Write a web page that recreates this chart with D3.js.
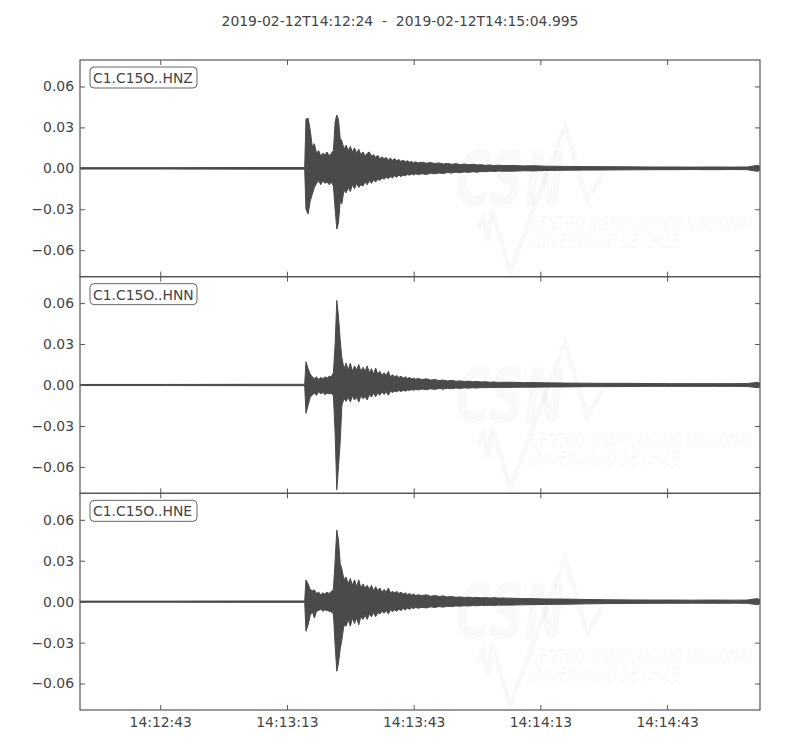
<!DOCTYPE html>
<html>
<head>
<meta charset="utf-8">
<script src="https://cdn.jsdelivr.net/npm/d3@7"></script>
<style>
  body { margin: 0; background: #fff; }
  text { font-family: "DejaVu Sans", sans-serif; }
</style>
</head>
<body>
<div id="chart"></div>
<script>
// trace window
const startTime = '2019-02-12T14:12:24';
const endTime = '2019-02-12T14:15:04.995';
const channels = ['C1.C15O..HNZ', 'C1.C15O..HNN', 'C1.C15O..HNE'];

// seconds after start; min/max envelope
const times = [0, 20, 40, 53.2,
  53.5, 54, 54.5, 55, 55.5, 56, 56.5, 57, 57.5, 58, 58.5, 59, 59.5, 60,
  60.4, 60.8, 61.2, 61.6,
  62, 62.5, 63, 63.5, 64, 64.5, 65, 65.5, 66, 66.5,
  67, 67.5, 68, 68.5, 69, 69.5, 70, 70.5, 71, 71.5,
  72, 72.5, 73, 73.5, 74, 74.5, 75, 75.5, 76, 76.5,
  77, 77.5, 78, 78.5, 79, 79.5, 80,
  81, 82, 83, 84, 85, 86, 87, 88, 89, 90, 91, 92, 93, 94, 95, 96, 97, 98, 99, 100,
  102.5, 105, 107.5, 110,
  115, 120, 125, 130, 135, 140, 145, 150, 155,
  158, 159.5, 160.5, 161];

const hnzUpper = [0.0005, 0.0005, 0.0006, 0.0006,
  0.036, 0.0367, 0.028, 0.016, 0.018, 0.011, 0.013, 0.009, 0.011, 0.010, 0.012, 0.009, 0.011, 0.013,
  0.034, 0.039, 0.036, 0.022,
  0.020, 0.014, 0.017, 0.013, 0.016, 0.012, 0.015, 0.011, 0.014, 0.010,
  0.012, 0.009, 0.011, 0.012, 0.009, 0.010, 0.008, 0.0095, 0.007, 0.0085,
  0.007, 0.008, 0.006, 0.0075, 0.006, 0.007, 0.0055, 0.0065, 0.005, 0.006,
  0.0048, 0.0055, 0.0045, 0.005, 0.004, 0.0048, 0.004,
  0.0045, 0.0038, 0.0042, 0.0035, 0.004, 0.0032, 0.0036, 0.003, 0.0034, 0.0028,
  0.0031, 0.0026, 0.003, 0.0025, 0.0027, 0.0022, 0.0025, 0.002, 0.0023, 0.002,
  0.0021, 0.0018, 0.0019, 0.0016,
  0.0014, 0.0013, 0.0012, 0.0011, 0.001, 0.001, 0.0009, 0.001, 0.0009,
  0.001, 0.0018, 0.0022, 0.0012];
const hnzLower = [-0.0005, -0.0005, -0.0006, -0.0006,
  -0.030, -0.0335, -0.024, -0.019, -0.014, -0.011, -0.009, -0.012, -0.009, -0.011, -0.010, -0.012, -0.010, -0.013,
  -0.030, -0.0445, -0.040, -0.024,
  -0.026, -0.016, -0.018, -0.014, -0.017, -0.012, -0.015, -0.011, -0.014, -0.012,
  -0.013, -0.010, -0.012, -0.009, -0.011, -0.0085, -0.010, -0.008, -0.009, -0.007,
  -0.008, -0.0065, -0.0075, -0.006, -0.007, -0.0055, -0.0065, -0.005, -0.006, -0.005,
  -0.0055, -0.0045, -0.005, -0.0042, -0.0048, -0.004, -0.0045,
  -0.004, -0.0045, -0.0036, -0.004, -0.0034, -0.0038, -0.003, -0.0034, -0.0028, -0.0032,
  -0.0026, -0.003, -0.0025, -0.0028, -0.0023, -0.0025, -0.0021, -0.0023, -0.002, -0.0021,
  -0.0021, -0.0018, -0.0019, -0.0016,
  -0.0014, -0.0013, -0.0012, -0.0011, -0.001, -0.001, -0.0009, -0.001, -0.0009,
  -0.001, -0.0018, -0.0022, -0.0012];

const hnnUpper = [0.0004, 0.0004, 0.0005, 0.0005,
  0.017, 0.012, 0.008, 0.006, 0.0045, 0.006, 0.004, 0.0055, 0.0045, 0.006, 0.005, 0.0065, 0.006, 0.009,
  0.030, 0.062, 0.050, 0.033,
  0.020, 0.012, 0.016, 0.011, 0.016, 0.010, 0.014, 0.011, 0.015, 0.010,
  0.013, 0.010, 0.014, 0.009, 0.012, 0.008, 0.0124, 0.008, 0.010, 0.007,
  0.009, 0.007, 0.010, 0.006, 0.0075, 0.006, 0.007, 0.0055, 0.0065, 0.005,
  0.006, 0.0048, 0.0055, 0.0045, 0.005, 0.0042, 0.0048,
  0.004, 0.0045, 0.0036, 0.004, 0.0033, 0.0036, 0.003, 0.0034, 0.0028, 0.003,
  0.0026, 0.0028, 0.0024, 0.0026, 0.0022, 0.0024, 0.002, 0.0022, 0.0019, 0.002,
  0.002, 0.0017, 0.0018, 0.0016,
  0.0014, 0.0013, 0.0012, 0.0012, 0.0011, 0.001, 0.001, 0.001, 0.001,
  0.0011, 0.0016, 0.002, 0.0012];
const hnnLower = [-0.0004, -0.0004, -0.0005, -0.0005,
  -0.0207, -0.015, -0.009, -0.0073, -0.006, -0.0075, -0.005, -0.0065, -0.0055, -0.007, -0.006, -0.0065, -0.006, -0.008,
  -0.035, -0.0768, -0.060, -0.042,
  -0.015, -0.010, -0.012, -0.009, -0.0125, -0.008, -0.011, -0.009, -0.0125, -0.008,
  -0.010, -0.0085, -0.011, -0.007, -0.0088, -0.006, -0.0085, -0.006, -0.0075, -0.005,
  -0.007, -0.005, -0.0075, -0.0045, -0.0055, -0.0045, -0.005, -0.004, -0.0048, -0.0038,
  -0.0045, -0.0036, -0.004, -0.0034, -0.0038, -0.0032, -0.0036,
  -0.003, -0.0034, -0.0028, -0.0032, -0.0026, -0.003, -0.0024, -0.0027, -0.0022, -0.0025,
  -0.0021, -0.0023, -0.002, -0.0022, -0.0019, -0.002, -0.0018, -0.0019, -0.0017, -0.0018,
  -0.0017, -0.0016, -0.0016, -0.0015,
  -0.0014, -0.0012, -0.0012, -0.0011, -0.001, -0.001, -0.001, -0.001, -0.001,
  -0.0011, -0.0016, -0.002, -0.0012];

const hneUpper = [0.0004, 0.0004, 0.0005, 0.0005,
  0.016, 0.013, 0.009, 0.008, 0.0086, 0.006, 0.007, 0.005, 0.0065, 0.0055, 0.007, 0.006, 0.0075, 0.009,
  0.030, 0.0525, 0.045, 0.028,
  0.024, 0.016, 0.018, 0.013, 0.017, 0.012, 0.016, 0.011, 0.016, 0.010,
  0.013, 0.010, 0.012, 0.009, 0.012, 0.008, 0.011, 0.008, 0.010, 0.007,
  0.009, 0.007, 0.010, 0.0065, 0.0075, 0.0065, 0.0075, 0.006, 0.007, 0.0055,
  0.0065, 0.005, 0.006, 0.0048, 0.0055, 0.0045, 0.005,
  0.0045, 0.005, 0.004, 0.0045, 0.0038, 0.0042, 0.0035, 0.0038, 0.0032, 0.0035,
  0.003, 0.0033, 0.0029, 0.0031, 0.0028, 0.003, 0.0027, 0.0029, 0.0026, 0.0027,
  0.0025, 0.0023, 0.0022, 0.002,
  0.0019, 0.0016, 0.0014, 0.0013, 0.0012, 0.0012, 0.0011, 0.0012, 0.0011,
  0.0012, 0.0019, 0.0022, 0.0012];
const hneLower = [-0.0004, -0.0004, -0.0005, -0.0005,
  -0.0217, -0.017, -0.010, -0.0073, -0.012, -0.007, -0.0065, -0.0055, -0.007, -0.006, -0.0065, -0.007, -0.0075, -0.009,
  -0.032, -0.051, -0.045, -0.035,
  -0.028, -0.017, -0.018, -0.013, -0.018, -0.012, -0.016, -0.012, -0.017, -0.011,
  -0.013, -0.010, -0.013, -0.009, -0.011, -0.008, -0.011, -0.008, -0.009, -0.007,
  -0.0085, -0.0065, -0.009, -0.006, -0.0073, -0.006, -0.007, -0.0055, -0.0065, -0.005,
  -0.006, -0.0048, -0.0055, -0.0045, -0.005, -0.0042, -0.0048,
  -0.0042, -0.0046, -0.0038, -0.0042, -0.0036, -0.004, -0.0034, -0.0036, -0.0031, -0.0033,
  -0.003, -0.0032, -0.0028, -0.003, -0.0027, -0.0029, -0.0026, -0.0028, -0.0025, -0.0026,
  -0.0025, -0.0023, -0.0022, -0.002,
  -0.0019, -0.0016, -0.0014, -0.0013, -0.0012, -0.0012, -0.0011, -0.0012, -0.0011,
  -0.0012, -0.0019, -0.0022, -0.0012];

const xTickLabels = ['14:12:43', '14:13:13', '14:13:43', '14:14:13', '14:14:43'];
const yTicks = [-0.06, -0.03, 0.00, 0.03, 0.06];
const yLimit = 0.0794;

const width = 800;
const height = 750;
const margin = { top: 60, right: 40, bottom: 40, left: 80 };
const innerWidth = width - margin.left - margin.right;
const panelHeight = (height - margin.top - margin.bottom) / channels.length;
const fontSize = '13.9px';

const traces = [
  { upper: hnzUpper, lower: hnzLower },
  { upper: hnnUpper, lower: hnnLower },
  { upper: hneUpper, lower: hneLower }
];

const parseFull = d3.utcParse('%Y-%m-%dT%H:%M:%S.%L');
const parseTime = d3.utcParse('%Y-%m-%dT%H:%M:%S');
const t0 = parseTime(startTime);
const t1 = parseFull(endTime);
const xTickDates = xTickLabels.map(s => parseTime('2019-02-12T' + s));

const xScale = d3.scaleUtc()
  .domain([t0, t1])
  .range([0, innerWidth]);

const yScale = d3.scaleLinear()
  .domain([-yLimit, yLimit])
  .range([panelHeight, 0]);

const svg = d3.select('#chart')
  .append('svg')
  .attr('width', width)
  .attr('height', height);

svg.append('text')
  .attr('x', width / 2)
  .attr('y', 26)
  .attr('text-anchor', 'middle')
  .attr('font-size', fontSize)
  .attr('fill', '#444')
  .style('white-space', 'pre')
  .text(`${startTime}  -  ${endTime}`);

svg.append('defs')
  .append('clipPath')
  .attr('id', 'panel-clip')
  .append('rect')
  .attr('width', innerWidth)
  .attr('height', panelHeight);

const area = d3.area()
  .x(d => xScale(new Date(t0.getTime() + d.t * 1000)))
  .y0(d => yScale(d.lower))
  .y1(d => yScale(d.upper));

const spineColor = '#555';
const textColor = '#444';

channels.forEach((name, k) => {
  const g = svg.append('g')
    .attr('transform', `translate(${margin.left},${margin.top + k * panelHeight})`);

  // faint CSN watermark
  const wm = g.append('g')
    .attr('clip-path', 'url(#panel-clip)')
    .attr('fill', '#000')
    .attr('fill-opacity', 0.022);

  wm.append('path')
    .attr('d', d3.line()([[398, 168], [403, 157], [408, 182], [412, 150], [430, 212],
      [485, 65], [507, 140], [523, 113]]))
    .attr('fill', 'none')
    .attr('stroke', '#000')
    .attr('stroke-opacity', 0.022)
    .attr('stroke-width', 5);

  wm.append('text')
    .attr('x', 375)
    .attr('y', 145)
    .attr('font-size', '74px')
    .attr('font-weight', 'bold')
    .attr('font-style', 'italic')
    .attr('textLength', 110)
    .attr('lengthAdjust', 'spacingAndGlyphs')
    .text('CSN');

  wm.append('text')
    .attr('x', 450)
    .attr('y', 170)
    .attr('font-size', '19px')
    .attr('font-style', 'italic')
    .attr('fill-opacity', 0.04)
    .attr('textLength', 225)
    .attr('lengthAdjust', 'spacingAndGlyphs')
    .text('CENTRO SISMOLÓGICO NACIONAL');

  wm.append('text')
    .attr('x', 448)
    .attr('y', 188)
    .attr('font-size', '19px')
    .attr('font-style', 'italic')
    .attr('fill-opacity', 0.04)
    .attr('textLength', 152)
    .attr('lengthAdjust', 'spacingAndGlyphs')
    .text('UNIVERSIDAD DE CHILE');

  // waveform envelope
  const rows = times.map((t, i) => ({ t, upper: traces[k].upper[i], lower: traces[k].lower[i] }));
  g.append('path')
    .datum(rows)
    .attr('clip-path', 'url(#panel-clip)')
    .attr('d', area)
    .attr('fill', '#4a4a4a')
    .attr('stroke', '#4a4a4a')
    .attr('stroke-width', 1)
    .attr('stroke-linejoin', 'miter');

  // axes, ticks pointing inward on all four sides
  const left = g.append('g')
    .call(d3.axisLeft(yScale).tickValues(yTicks).tickSize(-5).tickPadding(6)
      .tickFormat(d3.format('.2f')));
  const right = g.append('g')
    .attr('transform', `translate(${innerWidth},0)`)
    .call(d3.axisRight(yScale).tickValues(yTicks).tickSize(-5).tickFormat(''));
  const top = g.append('g')
    .call(d3.axisTop(xScale).tickValues(xTickDates).tickSize(-5).tickFormat(''));
  const bottom = g.append('g')
    .attr('transform', `translate(0,${panelHeight})`)
    .call(d3.axisBottom(xScale).tickValues(xTickDates).tickSize(-5).tickPadding(7)
      .tickFormat((d, i) => k === channels.length - 1 ? xTickLabels[i] : ''));

  [left, right, top, bottom].forEach(ax => {
    ax.select('.domain').remove();
    ax.selectAll('line').attr('stroke', spineColor);
    ax.selectAll('text')
      .attr('fill', textColor)
      .attr('font-size', fontSize)
      .attr('font-family', '"DejaVu Sans", sans-serif');
  });

  g.append('rect')
    .attr('width', innerWidth)
    .attr('height', panelHeight)
    .attr('fill', 'none')
    .attr('stroke', spineColor)
    .attr('stroke-width', 1.2);

  // channel label
  g.append('rect')
    .attr('x', 10)
    .attr('y', 7)
    .attr('width', 107)
    .attr('height', 21)
    .attr('rx', 4)
    .attr('fill', '#fff')
    .attr('stroke', '#666');

  g.append('text')
    .attr('x', 13)
    .attr('y', 23)
    .attr('font-size', fontSize)
    .attr('fill', textColor)
    .text(name);
});
</script>
</body>
</html>
